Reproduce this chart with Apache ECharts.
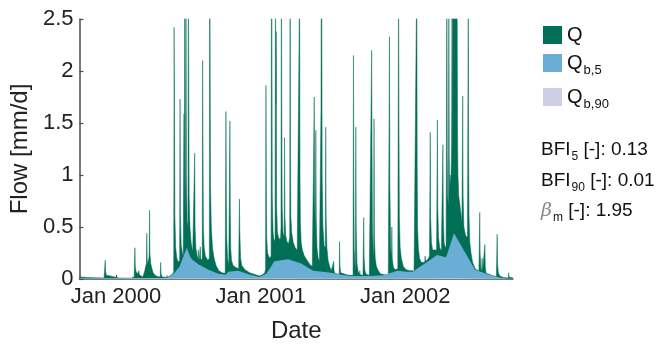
<!DOCTYPE html>
<html><head><meta charset="utf-8">
<script src="https://cdn.jsdelivr.net/npm/echarts@6/dist/echarts.min.js"></script>
<style>html,body{margin:0;padding:0;background:#fff}#c{width:659px;height:348px}</style>
</head><body><div id="c"></div>
<script>
// Days counted from 1 Oct 1999 (x axis), flows in mm/d
const xTickDays = [92, 274, 458, 639, 823, 1004];
const xLabelDays = [92, 458, 823];
const xLabels = ['Jan 2000', 'Jan 2001', 'Jan 2002'];
const yTicks = [0, 0.5, 1, 1.5, 2, 2.5];

const qFlow = [
[0,0.02],[20,0.015],[40,0.012],[62,0.01],
[64,0.02],[65,0.18],[66,0.07],[68,0.035],[72,0.02],[78,0.03],[80,0.015],[88,0.02],[100,0.01],[130,0.008],
[138,0.02],[140,0.30],[141,0.12],[143,0.07],[147,0.05],[150,0.08],[151,0.04],[155,0.03],[160,0.02],
[163,0.03],[165,0.08],[167,0.12],[169,0.15],[170,0.44],[171,0.18],[173,0.15],[175,0.2],[176,0.22],[177,0.66],[178,0.25],[180,0.15],[183,0.1],[186,0.06],[190,0.04],[196,0.025],
[204,0.02],[205,0.16],[206,0.05],[209,0.02],[220,0.015],[221,0.035],[222,0.015],
[236,0.05],[237,0.06],[238,0.07],[239,2.42],[240,1.62],[241,0.6],[243,0.3],[246,0.2],[250,0.16],[253,0.18],[254,1.73],[255,0.6],[257,0.32],[260,0.25],[262,0.22],
[264,1.59],[265,0.6],[266,3.2],[267,1.0],[268,0.6],[269,2.9],[270,1.0],[272,0.55],[274,0.5],[275,3.0],[276,2.07],[277,0.8],[279,0.5],[282,0.35],[286,0.26],
[290,0.25],[291,1.21],[292,0.5],[294,0.3],[297,0.22],[299,0.2],[300,0.28],[301,0.18],[303,0.2],[305,0.31],[306,0.2],[308,0.18],
[310,0.2],[311,2.1],[312,1.28],[313,0.5],[315,0.3],[318,0.22],[321,0.2],[324,0.18],
[328,0.2],[329,3.5],[330,2.22],[331,0.9],[333,0.5],[336,0.3],[340,0.2],[345,0.13],[352,0.08],[360,0.06],[368,0.055],
[369,0.07],[370,1.61],[371,0.8],[372,0.4],[374,0.2],[377,0.13],
[379,0.12],[380,1.52],[381,0.65],[382,0.3],[384,0.18],[388,0.13],[395,0.11],[402,0.1],
[404,0.77],[405,0.45],[407,0.2],[410,0.13],[418,0.09],[430,0.06],[445,0.04],[455,0.03],[462,0.04],[468,0.06],
[470,0.1],[471,1.86],[472,0.9],[473,0.4],[475,0.25],[480,0.2],[483,0.2],
[484,0.22],[485,3.5],[486,2.6],[487,0.8],[489,0.45],[491,0.38],[493,0.36],
[494,0.4],[495,3.0],[496,1.68],[497,2.38],[498,0.7],[500,0.45],[503,0.4],[506,0.38],
[508,0.4],[509,0.5],[510,3.2],[511,1.7],[512,0.7],[514,0.45],[517,0.4],[518,1.36],[519,0.6],[521,0.42],[524,0.36],[528,0.34],
[531,0.4],[532,3.4],[533,1.2],[534,0.6],[536,0.45],[540,0.35],[545,0.3],[550,0.28],
[554,0.28],[556,2.9],[557,1.0],[558,0.55],[560,0.35],[563,0.28],[568,0.22],[575,0.18],[582,0.14],[588,0.12],
[591,0.12],[593,1.75],[594,0.8],[596,0.4],[597,1.43],[598,0.6],[600,0.3],[603,0.2],[606,0.17],
[609,0.18],[610,1.63],[611,3.5],[612,2.8],[613,1.0],[615,0.5],[618,0.32],
[621,0.3],[622,1.46],[623,0.6],[625,0.3],[628,0.18],[632,0.12],[636,0.08],
[641,0.07],[642,0.17],[643,0.08],[645,0.055],[650,0.05],
[656,0.045],[657,0.36],[658,0.12],[660,0.06],[665,0.045],[675,0.04],[685,0.035],
[691,0.035],[692,2.15],[693,0.9],[694,0.3],[696,0.12],[697,0.1],[698,1.46],[699,0.5],[701,0.15],[704,0.07],
[707,0.04],[708,0.08],[709,0.04],[716,0.035],[717,0.04],[718,0.59],[719,0.2],[721,0.08],[724,0.045],[732,0.035],
[736,0.04],[738,2.2],[739,1.2],[740,0.5],[742,0.25],[743,0.22],[744,1.54],[745,0.4],[747,0.2],[750,0.12],[755,0.08],[760,0.05],[770,0.04],[780,0.045],
[782,0.05],[783,2.33],[784,0.9],[786,0.3],[788,0.2],[789,0.5],[790,0.2],[793,0.11],[798,0.09],[803,0.09],
[804,0.1],[806,2.9],[807,1.5],[808,0.6],[810,0.3],[813,0.2],[818,0.12],[825,0.09],[835,0.08],[845,0.08],
[850,0.09],[852,3.0],[853,1.1],[854,0.5],[856,0.3],[859,0.2],[863,0.16],[868,0.16],
[872,0.16],[873,0.22],[874,0.17],[880,0.19],
[884,0.22],[886,1.41],[887,0.6],[889,0.35],[892,0.28],[897,0.27],
[902,0.28],[904,1.53],[905,0.7],[907,0.4],[910,0.3],[914,0.27],
[916,0.27],[918,1.29],[919,0.6],[921,0.35],[924,0.3],
[926,0.32],[928,3.0],[929,1.2],[930,0.8],[932,0.7],[933,2.8],[934,1.2],[935,0.8],
[936,1.0],[938,0.9],[940,1.3],[941,2.6],[942,1.2],[943,3.5],[944,2.5],[945,3.0],[946,3.5],[947,2.8],[948,3.2],[949,2.7],[950,3.3],[951,2.6],[952,2.9],[953,3.5],[954,2.6],[955,1.4],[956,1.0],[958,0.8],
[960,0.8],[963,0.65],[966,0.55],[968,1.76],[969,0.8],[971,0.5],[975,0.42],[979,0.4],
[980,0.42],[982,2.8],[983,1.2],[984,0.6],[986,0.35],[989,0.25],[993,0.16],[998,0.11],[1002,0.09],
[1009,0.08],[1011,0.64],[1012,0.25],[1014,0.1],[1016,0.075],[1017,0.2],[1018,0.07],
[1022,0.062],[1024,0.33],[1025,0.12],[1027,0.055],[1035,0.045],[1045,0.032],
[1053,0.025],[1055,0.43],[1056,0.15],[1058,0.06],[1062,0.03],[1070,0.015],
[1083,0.01],[1084,0.06],[1085,0.02],[1095,0.01]
];

const qb5 = [
[0,0.005],[221,0.01],[238,0.05],[253,0.12],[271,0.30],[279,0.22],[284,0.19],[301,0.14],[326,0.09],[351,0.05],
[369,0.04],[376,0.07],[401,0.08],[427,0.045],[454,0.02],[472,0.05],[484,0.12],[492,0.17],[527,0.19],[560,0.15],
[590,0.08],[615,0.07],[635,0.06],[660,0.04],[685,0.03],[735,0.03],[768,0.035],[803,0.08],[828,0.07],[841,0.07],
[881,0.17],[903,0.23],[926,0.21],[946,0.44],[999,0.09],[1031,0.045],[1066,0.01],[1095,0.0]
];

const qb90 = [
[0,0.002],[271,0.006],[527,0.006],[735,0.003],[946,0.008],[1095,0.001]
];

const colQ = '#006f56', colB5 = '#6aaed6', colB90 = '#cdcfe6';
const FONT = 'Liberation Sans, Arial, sans-serif';

const chart = echarts.init(document.getElementById('c'), null, {renderer: 'canvas'});
const legendRich = {
  m: {fontSize: 20, lineHeight: 20, color: '#111', fontFamily: FONT},
  s: {fontSize: 13, lineHeight: 4, verticalAlign: 'top', padding: [11, 0, 0, 1], color: '#111', fontFamily: FONT}
};
const legendNames = {Q: '{m|Q}', Qb5: '{m|Q}{s|b,5}', Qb90: '{m|Q}{s|b,90}'};
function mkLegend(name, top) {
  return {
    data: [name], left: 543, top: top, orient: 'vertical', padding: 0,
    itemWidth: 19, itemHeight: 18, icon: 'rect', selectedMode: false, itemGap: 0,
    formatter: n => legendNames[n],
    textStyle: {fontFamily: FONT, fontSize: 20, color: '#111', rich: legendRich}
  };
}
const statRich = {
  m: {fontSize: 19, lineHeight: 20, fill: '#111', fontFamily: FONT},
  s: {fontSize: 12, lineHeight: 4, verticalAlign: 'top', padding: [11, 0, 0, 1], fill: '#111', fontFamily: FONT},
  g: {fontSize: 19, lineHeight: 20, fill: '#888', fontStyle: 'italic', fontFamily: 'DejaVu Serif, serif'}
};
function stat(txt, top) {
  return {type: 'text', left: 541, top: top, style: {text: txt, rich: statRich, fontFamily: FONT, fontSize: 19, fill: '#111'}};
}

chart.setOption({
  animation: false,
  grid: {left: 77, right: 146, top: 19, bottom: 67},
  legend: [mkLegend('Q', 25), mkLegend('Qb5', 53), mkLegend('Qb90', 87)],
  graphic: [
    stat('{m|BFI}{s|5}{m| [-]: 0.13}', 140),
    stat('{m|BFI}{s|90}{m| [-]: 0.01}', 171),
    stat('{g|β}{s|m}{m| [-]: 1.95}', 201)
  ],
  xAxis: {
    type: 'value', min: 0, max: 1095,
    name: 'Date', nameLocation: 'middle', nameGap: 40,
    nameTextStyle: {fontFamily: FONT, fontSize: 24, color: '#222'},
    axisLine: {show: true, lineStyle: {color: '#4d4d4d', width: 1.5}},
    axisTick: {show: true, inside: true, length: 4, customValues: xTickDays, lineStyle: {color: '#4d4d4d', width: 1.2}},
    axisLabel: {customValues: xLabelDays, margin: 7, fontFamily: FONT, fontSize: 22, color: '#222',
      formatter: v => xLabels[xLabelDays.indexOf(Math.round(v))] || ''},
    splitLine: {show: false}
  },
  yAxis: {
    type: 'value', min: yTicks[0], max: yTicks[yTicks.length - 1], interval: 0.5,
    name: 'Flow [mm/d]', nameLocation: 'middle', nameGap: 42,
    nameTextStyle: {fontFamily: FONT, fontSize: 24, color: '#222'},
    axisLine: {show: true, lineStyle: {color: '#4d4d4d', width: 1.5}},
    axisTick: {show: true, inside: true, length: 4, lineStyle: {color: '#4d4d4d', width: 1.2}},
    axisLabel: {margin: 6, fontFamily: FONT, fontSize: 22, color: '#222'},
    splitLine: {show: false}
  },
  series: [
    {name: 'Q', type: 'line', data: qFlow, symbol: 'none', clip: true, sampling: null,
      itemStyle: {color: colQ}, lineStyle: {color: colQ, width: 0.5},
      areaStyle: {color: colQ, opacity: 1}, z: 1},
    {name: 'Qb5', type: 'line', data: qb5, symbol: 'none', clip: true,
      itemStyle: {color: colB5}, lineStyle: {width: 0},
      areaStyle: {color: colB5, opacity: 1}, z: 2},
    {name: 'Qb90', type: 'line', data: qb90, symbol: 'none', clip: true,
      itemStyle: {color: colB90}, lineStyle: {width: 0},
      areaStyle: {color: colB90, opacity: 1}, z: 3}
  ]
});
</script></body></html>
